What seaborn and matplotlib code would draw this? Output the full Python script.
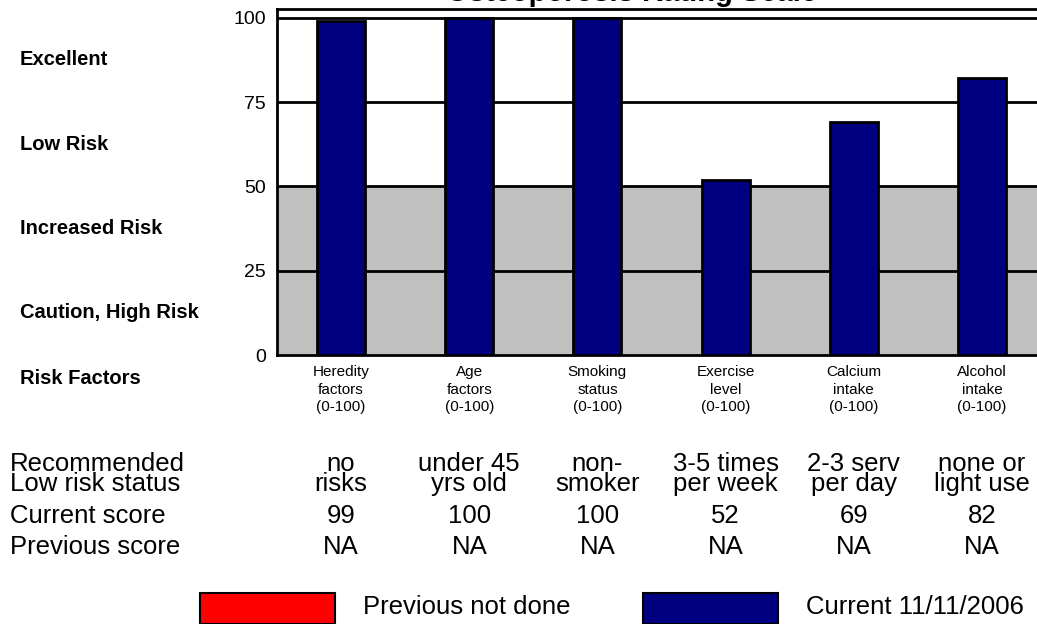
import matplotlib
matplotlib.use("Agg")
import matplotlib.pyplot as plt
import matplotlib.transforms as mtransforms
from matplotlib.patches import Rectangle
import seaborn as sns
import pandas as pd

# ---- data ----
categories = ["Heredity\nfactors\n(0-100)", "Age\nfactors\n(0-100)", "Smoking\nstatus\n(0-100)",
              "Exercise\nlevel\n(0-100)", "Calcium\nintake\n(0-100)", "Alcohol\nintake\n(0-100)"]
current_scores = [99, 100, 100, 52, 69, 82]
previous_scores = ["NA", "NA", "NA", "NA", "NA", "NA"]
recommended = ["no\nrisks", "under 45\nyrs old", "non-\nsmoker", "3-5 times\nper week",
               "2-3 serv\nper day", "none or\nlight use"]
zone_labels = ["Excellent", "Low Risk", "Increased Risk", "Caution, High Risk"]
zone_centers = [87.5, 62.5, 37.5, 12.5]
row_labels = ["Recommended\nLow risk status", "Current score", "Previous score"]
legend_labels = ["Previous not done", "Current 11/11/2006"]
legend_colors = ["#FF0000", "#000080"]
title = "Osteoporosis Rating Scale"

sns.set_theme(style="white")
plt.rcParams["font.family"] = ["Liberation Sans", "DejaVu Sans"]
plt.rcParams["text.color"] = "black"
plt.rcParams["xtick.color"] = "black"
plt.rcParams["ytick.color"] = "black"
plt.rcParams["xtick.labelcolor"] = "black"
plt.rcParams["ytick.labelcolor"] = "black"

W, H = 1037, 624
fig = plt.figure(figsize=(W / 100, H / 100), dpi=100)
ax = fig.add_axes([277 / W, 269 / H, (1046 - 277) / W, (615 - 269) / H])

df = pd.DataFrame({"factor": categories, "score": current_scores})

# risk band and reference lines
ax.axhspan(0, 50, color="#C0C0C0", zorder=0)
for yv in (25, 50, 75, 100):
    ax.axhline(yv, color="black", lw=2, zorder=1)

sns.barplot(data=df, x="factor", y="score", color="#000080", saturation=1,
            width=0.375, edgecolor="black", linewidth=2, ax=ax, zorder=3)

ax.set_xlim(-0.5, 5.5)
ax.set_ylim(0, 102.6)
ax.set_yticks([0, 25, 50, 75, 100])
ax.set_xlabel("")
ax.set_ylabel("")
ax.tick_params(axis="y", length=0, pad=8, labelsize=14)
ax.tick_params(axis="x", length=0, pad=7, labelsize=11)
for lab in ax.get_xticklabels():
    lab.set_linespacing(1.35)
for s in ax.spines.values():
    s.set_color("black")
    s.set_linewidth(2)

# zone labels on the left
left_tr = mtransforms.blended_transform_factory(fig.transFigure, ax.transData)
for lab, yc in zip(zone_labels, zone_centers):
    ax.text(20 / W, yc, lab, transform=left_tr, ha="left", va="center",
            fontsize=14.5, fontweight="bold", clip_on=False)
ax.text(20 / W, -7, "Risk Factors", transform=left_tr, ha="left", va="center",
        fontsize=14.5, fontweight="bold", clip_on=False)

# score table under the chart
tab_tr = mtransforms.blended_transform_factory(ax.transData, fig.transFigure)
row_y = [1 - 474 / H, 1 - 516 / H, 1 - 547 / H]
FS = 18.5
for lab, yy in zip(row_labels, row_y):
    fig.text(10 / W, yy, lab, ha="left", va="center", fontsize=FS, linespacing=0.8)
for i in range(len(categories)):
    ax.text(i, row_y[0], recommended[i], transform=tab_tr, ha="center", va="center",
            fontsize=FS, linespacing=0.8, clip_on=False)
    ax.text(i, row_y[1], str(current_scores[i]), transform=tab_tr, ha="center",
            va="center", fontsize=FS, clip_on=False)
    ax.text(i, row_y[2], previous_scores[i], transform=tab_tr, ha="center",
            va="center", fontsize=FS, clip_on=False)

# legend
box_x = [200, 643]
for bx, lab, col in zip(box_x, legend_labels, legend_colors):
    fig.add_artist(Rectangle((bx / W, 0 / H), 135 / W, 31 / H, transform=fig.transFigure,
                             facecolor=col, edgecolor="black", lw=1.5))
    fig.text((bx + 163) / W, 1 - 607 / H, lab, ha="left", va="center", fontsize=FS)

# title (sits at the very top edge)
fig.text(632 / W, 1 - 1 / H, title, ha="center", va="baseline",
         fontsize=21, fontweight="bold")

fig.savefig("out.png", dpi=100)
